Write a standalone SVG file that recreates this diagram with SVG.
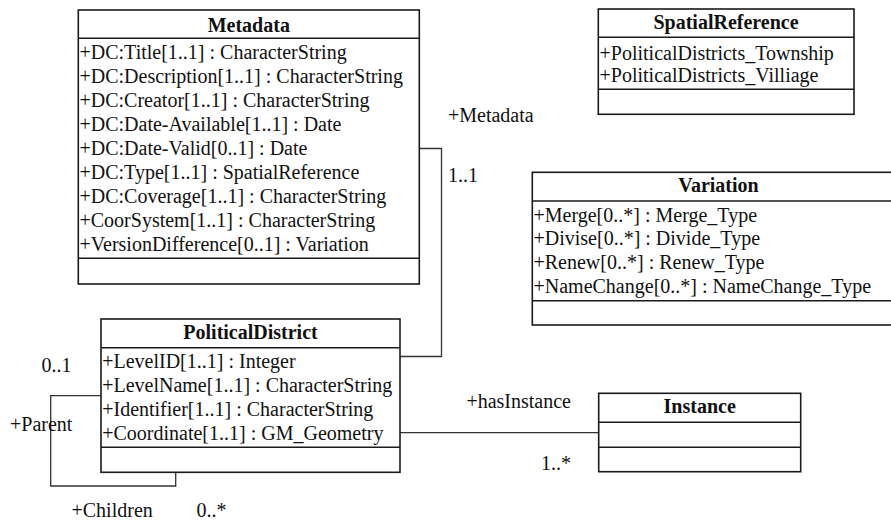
<svg xmlns="http://www.w3.org/2000/svg" width="891" height="521" viewBox="0 0 891 521">
<style>
text{font-family:'Liberation Serif','DejaVu Serif',serif;font-size:20px;fill:#111}
.h{font-weight:bold;text-anchor:middle}
.box{fill:#fff;stroke:#1a1a1a;stroke-width:1.6}
.sep{stroke:#1a1a1a;stroke-width:1.6}
.con{fill:none;stroke:#333;stroke-width:1.3}
</style>
<rect width="891" height="521" fill="#fff"/>
<g id="connectors">
<path class="con" d="M419,148.5 H441.5 V356.5 H400"/>
<path class="con" d="M400,432.7 H598.7"/>
<path class="con" d="M101,395.7 H50.7 V486 H175.7 V472.3"/>
</g>
<g id="labels" font-family="Liberation Serif, serif">
<text x="448" y="122">+Metadata</text>
<text x="448" y="182">1..1</text>
<text x="571" y="408" text-anchor="end">+hasInstance</text>
<text x="571" y="470" text-anchor="end">1..*</text>
<text x="41.5" y="372">0..1</text>
<text x="10" y="431">+Parent</text>
<text x="71.5" y="516.5">+Children</text>
<text x="196.5" y="516.5">0..*</text>
</g>
<g id="Metadata">
<rect class="box" x="78.3" y="10" width="341" height="274"/>
<line class="sep" x1="78.3" y1="38.3" x2="419.3" y2="38.3"/>
<line class="sep" x1="78.3" y1="258.3" x2="419.3" y2="258.3"/>
<text class="h" x="248.8" y="31.7">Metadata</text>
<text x="79.5" y="59.3">+DC:Title[1..1] : CharacterString</text>
<text x="79.5" y="83.3">+DC:Description[1..1] : CharacterString</text>
<text x="79.5" y="107.3">+DC:Creator[1..1] : CharacterString</text>
<text x="79.5" y="131.3">+DC:Date-Available[1..1] : Date</text>
<text x="79.5" y="155.3">+DC:Date-Valid[0..1] : Date</text>
<text x="79.5" y="179.3">+DC:Type[1..1] : SpatialReference</text>
<text x="79.5" y="203.3">+DC:Coverage[1..1] : CharacterString</text>
<text x="79.5" y="227.3">+CoorSystem[1..1] : CharacterString</text>
<text x="79.5" y="251.3">+VersionDifference[0..1] : Variation</text>
</g>
<g id="SpatialReference">
<rect class="box" x="598.3" y="9" width="255.7" height="105.3"/>
<line class="sep" x1="598.3" y1="37.3" x2="854" y2="37.3"/>
<line class="sep" x1="598.3" y1="89.3" x2="854" y2="89.3"/>
<text class="h" x="726" y="29.3">SpatialReference</text>
<text x="599.5" y="59.5">+PoliticalDistricts_Township</text>
<text x="599.5" y="81.7">+PoliticalDistricts_Villiage</text>
</g>
<g id="Variation">
<rect class="box" x="532.3" y="172.3" width="362" height="152.7"/>
<line class="sep" x1="532.3" y1="201" x2="894" y2="201"/>
<line class="sep" x1="532.3" y1="300.7" x2="894" y2="300.7"/>
<text class="h" x="718.5" y="191.7">Variation</text>
<text x="533.5" y="221.7">+Merge[0..*] : Merge_Type</text>
<text x="533.5" y="245.3">+Divise[0..*] : Divide_Type</text>
<text x="533.5" y="268.8">+Renew[0..*] : Renew_Type</text>
<text x="533.5" y="292.5">+NameChange[0..*] : NameChange_Type</text>
</g>
<g id="PoliticalDistrict">
<rect class="box" x="101" y="319" width="299" height="153.3"/>
<line class="sep" x1="101" y1="347.7" x2="400" y2="347.7"/>
<line class="sep" x1="101" y1="447.3" x2="400" y2="447.3"/>
<text class="h" x="250.5" y="339.3">PoliticalDistrict</text>
<text x="102.2" y="368.3">+LevelID[1..1] : Integer</text>
<text x="102.2" y="392">+LevelName[1..1] : CharacterString</text>
<text x="102.2" y="415.7">+Identifier[1..1] : CharacterString</text>
<text x="102.2" y="439.5">+Coordinate[1..1] : GM_Geometry</text>
</g>
<g id="Instance">
<rect class="box" x="598.7" y="393.3" width="202" height="78.4"/>
<line class="sep" x1="598.7" y1="422.3" x2="800.7" y2="422.3"/>
<line class="sep" x1="598.7" y1="447.3" x2="800.7" y2="447.3"/>
<text class="h" x="699.7" y="413.3">Instance</text>
</g>
</svg>
